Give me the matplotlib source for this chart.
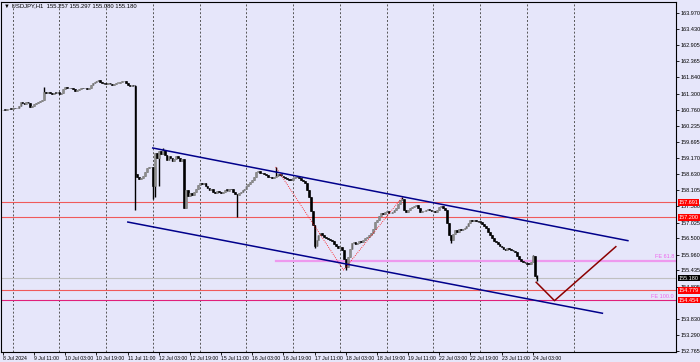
import matplotlib
matplotlib.use("Agg")
import matplotlib.pyplot as plt
import matplotlib.transforms as mtransforms

plt.rcParams["font.family"] = ["Liberation Sans Narrow", "Liberation Sans", "DejaVu Sans"]

# USDJPY H1 closes, one value per bar (bar 0 = 8 Jul 19:00)
closes = [
    160.76, 160.74, 160.78, 160.80, 160.79, 160.83, 160.81, 160.82, 160.90, 161.02, 161.00, 160.96,
    161.01, 160.99, 160.86, 160.90, 160.95, 160.99, 161.03, 161.06, 161.09, 161.36, 161.33, 161.35,
    161.31, 161.29, 161.33, 161.32, 161.36, 161.30, 161.33, 161.45, 161.52, 161.47, 161.50, 161.48,
    161.44, 161.40, 161.42, 161.46, 161.49, 161.47, 161.50, 161.46, 161.49, 161.58, 161.65, 161.69,
    161.73, 161.75, 161.68, 161.64, 161.62, 161.61, 161.64, 161.62, 161.60, 161.63, 161.65, 161.66,
    161.69, 161.70, 161.72, 161.66, 161.58, 161.56, 161.57, 161.55, 158.62, 158.55, 158.48, 158.50,
    158.58, 158.70, 158.82, 158.85, 158.88, 158.25, 159.32, 159.15, 159.40, 159.30, 159.43, 159.25,
    159.10, 159.22, 159.15, 159.05, 159.12, 159.22, 159.15, 159.08, 159.12, 157.52, 158.10, 157.92,
    158.00, 157.95, 158.05, 158.15, 158.27, 158.33, 158.30, 158.35, 158.25, 158.18, 158.10, 158.15,
    158.05, 158.00, 158.08, 158.02, 158.00, 158.05, 158.10, 158.08, 158.15, 158.12, 158.05, 157.96,
    157.95, 158.00, 158.02, 158.10, 158.15, 158.22, 158.30, 158.38, 158.45, 158.55, 158.70, 158.72,
    158.68, 158.65, 158.62, 158.60, 158.55, 158.52, 158.50, 158.55, 158.56, 158.62, 158.60, 158.58,
    158.52, 158.50, 158.47, 158.44, 158.43, 158.50, 158.53, 158.52, 158.50, 158.45, 158.40, 158.33,
    158.10, 157.88, 157.40, 156.95, 156.25, 156.45, 156.62, 156.68, 156.60, 156.55, 156.50, 156.48,
    156.45, 156.40, 156.30, 156.25, 156.18, 156.20, 156.12, 155.80, 155.55, 155.88, 156.15, 156.35,
    156.38, 156.30, 156.35, 156.40, 156.38, 156.45, 156.50, 156.55, 156.62, 156.68, 156.80, 157.05,
    157.11, 157.25, 157.34, 157.30, 157.37, 157.40, 157.33, 157.34, 157.38, 157.44, 157.50, 157.65,
    157.77, 157.80, 157.45, 157.37, 157.45, 157.51, 157.55, 157.58, 157.61, 157.50, 157.37, 157.40,
    157.42, 157.44, 157.46, 157.44, 157.40, 157.42, 157.37, 157.45, 157.54, 157.58, 157.50, 157.44,
    157.01, 156.60, 156.45, 156.65, 156.78, 156.72, 156.80, 156.78, 156.82, 156.84, 156.90, 157.02,
    157.11, 157.08, 157.11, 157.06, 157.05, 157.04, 156.98, 156.90, 156.85, 156.72, 156.61, 156.50,
    156.42, 156.38, 156.30, 156.25, 156.20, 156.15, 156.11, 156.18, 156.15, 156.10, 156.08, 156.05,
    155.92, 155.80, 155.74, 155.70, 155.68, 155.66, 155.65, 155.70, 155.90, 155.257, 155.18,
]
first_open = 160.74

# wicks that stick out past the body
wick_high = {21: 161.52, 68: 161.58, 82: 159.48, 140: 158.87, 205: 157.87, 272: 155.95, 274: 155.297}
wick_low = {68: 157.45, 77: 157.82, 78: 157.87, 80: 158.25, 120: 157.21, 160: 156.18,
            176: 155.45, 230: 156.35, 274: 155.080}

x_labels = ["8 Jul 2024", "9 Jul 11:00", "10 Jul 03:00", "10 Jul 19:00", "11 Jul 11:00",
            "12 Jul 03:00", "12 Jul 19:00", "15 Jul 11:00", "16 Jul 03:00", "16 Jul 19:00",
            "17 Jul 11:00", "18 Jul 03:00", "18 Jul 19:00", "19 Jul 11:00", "22 Jul 03:00",
            "22 Jul 19:00", "23 Jul 11:00", "24 Jul 03:00"]
x_label_bars = [0, 16, 32, 48, 64, 80, 96, 112, 128, 144, 160, 176, 192, 208, 224, 240, 256, 272]
day_bars = [5, 29, 53, 77, 101, 125, 149, 173, 197, 221, 245, 269, 293]

# price scale ticks (the one under the 154.4 tag is hidden in the original)
y_ticks = [163.970, 163.430, 162.905, 162.365, 161.840, 161.300, 160.760, 160.235, 159.695,
           159.170, 158.630, 158.105, 157.580, 157.025, 156.500, 155.960, 155.435, 154.895,
           153.830, 153.290, 152.765]

red_levels = [157.691, 157.200, 154.779]
bid = 155.180
upper_channel = [(76.9, 159.495), (320.9, 156.423)]
lower_channel = [(64.1, 157.04), (307.8, 154.017)]
fibo_pts = [(140, 158.866), (174.9, 155.45), (205.1, 157.87)]
fe_ratios = [0.618, 1.0]
projection = [(273.8, 155.044), (283.2, 154.434), (314.7, 156.224)]

bg = "#E6E6FA"
fig = plt.figure(figsize=(7, 3.62), dpi=100, facecolor=bg)
ax = fig.add_axes([1 / 700, 10 / 362, 675 / 700, 350 / 362], facecolor=bg)
ax.set_xlim(-1.03, 345.6)
ax.set_ylim(152.732, 164.335)

# grid (vertical only, at midnights)
for d in day_bars:
    ax.axvline(d, color="#555555", lw=0.7, ls=(0, (2, 2)), zorder=1)

# candles
opens = [first_open] + closes[:-1]
idx = list(range(len(closes)))
highs = [wick_high.get(i, max(o, c)) for i, o, c in zip(idx, opens, closes)]
lows = [wick_low.get(i, min(o, c)) for i, o, c in zip(idx, opens, closes)]
ax.vlines(idx, lows, highs, color="black", lw=1.0, zorder=3)
for i, o, c in zip(idx, opens, closes):
    col = "#8c8c8c" if c > o else "black"
    h = c - o if abs(c - o) > 0.02 else 0.02
    ax.bar(i, h, bottom=o, width=0.9, color=col, edgecolor=col, lw=0.4, zorder=4)

# horizontal lines
for lv in red_levels:
    ax.axhline(lv, color="#F05A5A", lw=0.8, zorder=2)
ax.axhline(bid, color="#C0C0C0", lw=0.8, zorder=2)

# fibo expansion
(ax_, ay), (bx, by), (cx, cy) = fibo_pts
ax.plot([ax_, bx, cx], [ay, by, cy], color="red", lw=0.6, ls=(0, (1, 1.5)), zorder=5)
fe_levels = [cy - r * (ay - by) for r in fe_ratios]
ax.plot([ax_, 345.6], [fe_levels[0]] * 2, color="#EE99EE", lw=1.6, zorder=2)
ax.axhline(fe_levels[1], color="#E0207A", lw=0.8, zorder=2)
for r, lv in zip(fe_ratios, fe_levels):
    ax.text(344.6, lv + 0.04, f"FE {r * 100:.1f}", color="#EE66EE", fontsize=4,
            ha="right", va="bottom", zorder=6)

# channel
ax.plot(*zip(*upper_channel), color="#00008B", lw=1.1, zorder=5)
ax.plot(*zip(*lower_channel), color="#00008B", lw=1.1, zorder=5)

# projection
ax.plot(*zip(*projection), color="#8B0000", lw=1.1, zorder=5)

# axes styling
ax.yaxis.tick_right()
ax.set_yticks(y_ticks)
ax.set_yticklabels([f"{t:.3f}" for t in y_ticks])
ax.set_xticks(x_label_bars)
ax.set_xticklabels(x_labels)
for lab in ax.get_xticklabels():
    lab.set_ha("left")
ax.tick_params(axis="y", labelsize=4, length=2, width=0.6, pad=1, colors="black")
ax.tick_params(axis="x", labelsize=3.7, length=2, width=0.6, pad=1, colors="black")
for s in ax.spines.values():
    s.set_linewidth(0.8)
    s.set_color("black")

trans = mtransforms.blended_transform_factory(ax.transAxes, ax.transData)
for lv in red_levels + [fe_levels[1]]:
    ax.text(1.004, lv, f"{lv:.3f}", transform=trans, fontsize=4, color="white",
            ha="left", va="center", clip_on=False, zorder=7,
            bbox=dict(boxstyle="square,pad=0.15", fc="#FF0000", ec="none"))
ax.text(1.004, bid, f"{bid:.3f}", transform=trans, fontsize=4, color="white",
        ha="left", va="center", clip_on=False, zorder=7,
        bbox=dict(boxstyle="square,pad=0.15", fc="black", ec="none"))

fig.text(4 / 700, 1 - 6 / 362, "\u25bc USDJPY,H1  155.257 155.297 155.080 155.180",
         fontsize=4.2, ha="left", va="center")

fig.savefig("out.png", dpi=100, facecolor=bg)
